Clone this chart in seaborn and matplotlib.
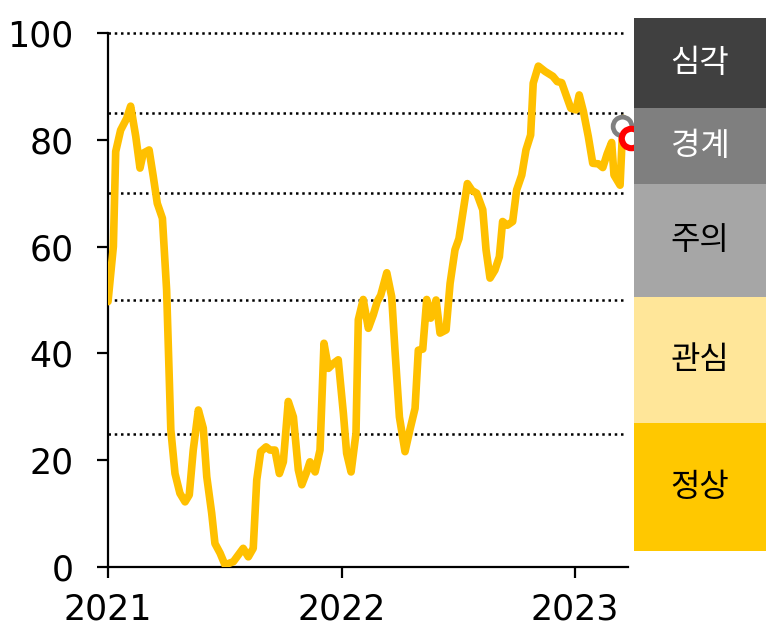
import matplotlib
matplotlib.use("Agg")
import matplotlib.pyplot as plt
import pandas as pd
import seaborn as sns

# ---- data ----
years = [2021.000, 2021.023, 2021.033, 2021.054, 2021.080, 2021.097, 2021.119, 2021.137,
         2021.151, 2021.176, 2021.194, 2021.211, 2021.233, 2021.251, 2021.269, 2021.287,
         2021.308, 2021.330, 2021.348, 2021.365, 2021.387, 2021.408, 2021.423, 2021.444,
         2021.458, 2021.480, 2021.501, 2021.537, 2021.579, 2021.601, 2021.622, 2021.637,
         2021.654, 2021.677, 2021.694, 2021.715, 2021.734, 2021.751, 2021.772, 2021.794,
         2021.815, 2021.830, 2021.851, 2021.865, 2021.887, 2021.908, 2021.925, 2021.944,
         2021.965, 2021.986, 2022.008, 2022.022, 2022.041, 2022.062, 2022.072, 2022.093,
         2022.115, 2022.136, 2022.153, 2022.168, 2022.194, 2022.215, 2022.229, 2022.248,
         2022.272, 2022.293, 2022.315, 2022.329, 2022.348, 2022.365, 2022.382, 2022.405,
         2022.422, 2022.448, 2022.465, 2022.486, 2022.503, 2022.539, 2022.559, 2022.579,
         2022.605, 2022.619, 2022.636, 2022.657, 2022.676, 2022.690, 2022.710, 2022.733,
         2022.750, 2022.772, 2022.790, 2022.810, 2022.821, 2022.843, 2022.872, 2022.905,
         2022.924, 2022.943, 2022.964, 2022.982, 2023.004, 2023.018, 2023.036, 2023.057,
         2023.076, 2023.100, 2023.119, 2023.138, 2023.157, 2023.167, 2023.193, 2023.206]
index_values = [49.7, 60.0, 77.8, 81.8, 84.0, 86.3, 80.6, 74.7,
                77.5, 78.1, 73.1, 68.1, 65.3, 51.9, 25.7, 17.5,
                13.8, 12.2, 13.5, 21.9, 29.4, 26.0, 16.9, 10.1,
                4.4, 2.6, 0.4, 1.0, 3.5, 1.9, 3.5, 16.3,
                21.6, 22.5, 21.9, 21.9, 17.5, 19.7, 31.0, 28.1,
                18.2, 15.4, 17.8, 19.7, 17.8, 21.9, 41.9, 37.2,
                38.1, 38.8, 28.8, 21.3, 17.8, 25.0, 46.3, 50.1,
                44.7, 47.2, 49.7, 50.9, 55.1, 50.6, 40.6, 28.1,
                21.6, 25.7, 29.7, 40.6, 40.8, 50.1, 46.6, 50.0,
                43.8, 44.4, 53.1, 59.4, 61.5, 71.8, 70.5, 70.0,
                66.9, 59.4, 54.1, 55.6, 58.1, 64.7, 64.0, 64.7,
                70.6, 73.4, 78.1, 80.9, 90.6, 93.8, 92.8, 91.9,
                90.9, 90.7, 88.1, 85.9, 85.6, 88.4, 85.3, 80.6,
                75.6, 75.5, 74.8, 77.4, 79.5, 73.4, 71.5, 84.0]
prev_year, prev_value = 2023.200, 82.6
last_year, last_value = 2023.240, 80.4

levels = ["정상", "관심", "주의", "경계", "심각"]
level_colors = ["#FFC800", "#FFE699", "#A6A6A6", "#7F7F7F", "#404040"]
level_text_colors = ["black", "black", "black", "white", "white"]
thresholds = [25, 50, 70, 85, 100]
year_ticks = [2021, 2022, 2023]
value_ticks = [0, 20, 40, 60, 80, 100]

# ---- layout ----
W, H = 768, 637
band_edges = [3.0, 27.0, 50.6, 71.7, 86.0, 102.8]  # vertical extent of the level boxes

sns.set_theme(style="ticks")
plt.rcParams['font.family'] = ['DejaVu Sans']

fig = plt.figure(figsize=(W / 100, H / 100), dpi=100)
ax = fig.add_axes([108 / W, 70 / H, 520 / W, 534 / H])

df = pd.DataFrame({"year": years, "value": index_values})
sns.lineplot(data=df, x="year", y="value", ax=ax, color="#FFC000", linewidth=5.5,
             estimator=None, sort=False, zorder=3)
for l in ax.get_lines():
    l.set_solid_capstyle("round")
    l.set_solid_joinstyle("round")

ax.plot([prev_year], [prev_value], marker="o", ms=13.5, mfc="white", mec="#808080",
        mew=3.4, zorder=4, clip_on=False)
ax.plot([last_year], [last_value], marker="o", ms=14, mfc="white", mec="#FF0000",
        mew=4.4, zorder=5, clip_on=False)

for t in thresholds:
    ax.axhline(t, xmin=0, xmax=0.992, color="black", lw=1.8, ls=(0, (1, 1.5)),
               zorder=1, clip_on=False)

ax.set_xlim(2021, 2021 + 520 / 233.5)
ax.set_ylim(0, 100)
ax.set_xticks(year_ticks)
ax.set_xticklabels([str(y) for y in year_ticks])
ax.set_yticks(value_ticks)
ax.set_yticklabels([str(v) for v in value_ticks])
ax.set_xlabel("")
ax.set_ylabel("")
for s in ["top", "right"]:
    ax.spines[s].set_visible(False)
for s in ["left", "bottom"]:
    ax.spines[s].set_color("black")
    ax.spines[s].set_linewidth(1.6)
ax.tick_params(axis="both", which="major", direction="out", length=8, width=1.6,
               color="black", labelsize=25, labelcolor="black", left=True, bottom=True)
ax.tick_params(axis="y", pad=17)
ax.tick_params(axis="x", pad=10)
ax.grid(False)

# ---- level boxes ----
bx = fig.add_axes([634 / W, 70 / H, 132 / W, 534 / H])
bx.set_xlim(0, 1)
bx.set_ylim(0, 100)
bx.axis("off")
for i, (name, col, tc) in enumerate(zip(levels, level_colors, level_text_colors)):
    lo, hi = band_edges[i], band_edges[i + 1]
    bx.bar(0.5, hi - lo, bottom=lo, width=1.0, color=col, edgecolor="none", clip_on=False)
    bx.text(0.5, (lo + hi) / 2, name, ha="center", va="center", color=tc, fontsize=23,
            family=["Noto Sans CJK KR", "DejaVu Sans"], clip_on=False)

fig.savefig("out.png", dpi=100)
